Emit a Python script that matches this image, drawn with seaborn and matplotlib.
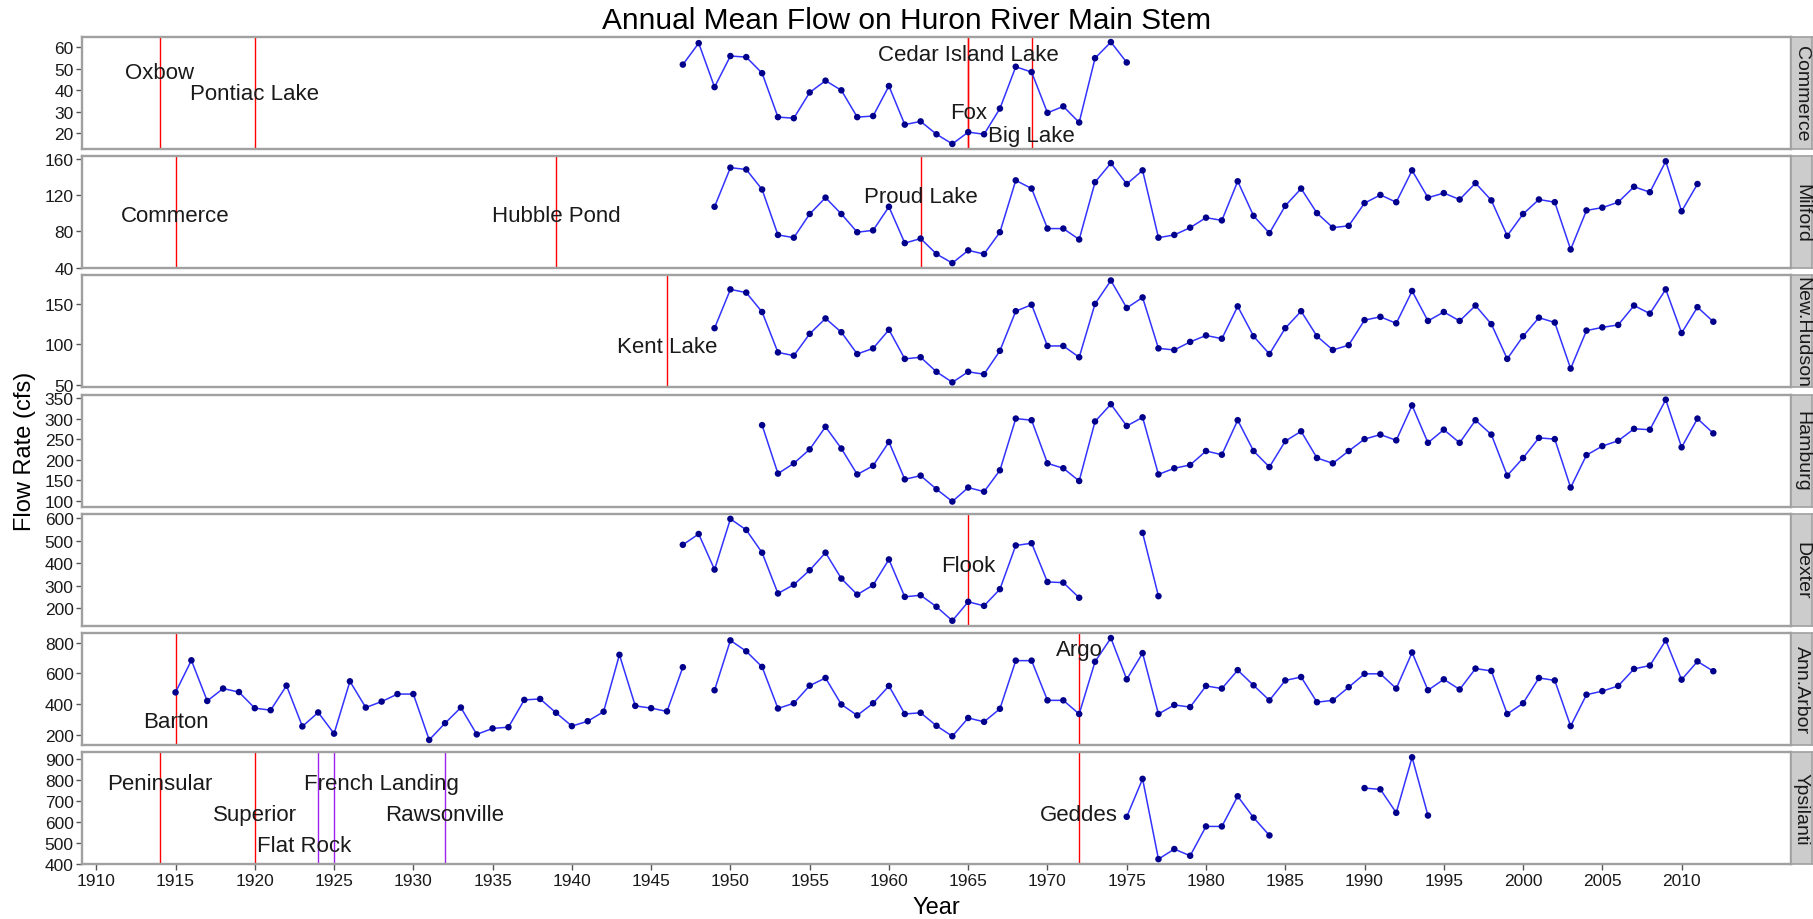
import numpy as np
import pandas as pd
import matplotlib
matplotlib.use("Agg")
import matplotlib.pyplot as plt
import seaborn as sns

# ---------------- data ----------------
stations = ["Commerce", "Milford", "New.Hudson", "Hamburg", "Dexter", "Ann.Arbor", "Ypsilanti"]

commerce_start = 1947
commerce_flow = [52, 62, 41.5, 56, 55.5, 48, 27.5, 27, 39, 44.5, 40, 27.5, 28, 42, 24, 25.5, 19.5, 15,
                 20.5, 19.5, 31.5, 51, 48.5, 29.5, 32.5, 25, 55, 62.5, 53]

milford_start = 1949
milford_flow = [107, 150, 148, 126, 76, 73, 99, 117, 99, 79, 81, 107, 67, 72, 55, 45, 59, 55, 79, 136,
                127, 83, 83, 71, 134, 155, 132, 147, 73, 76, 84, 95, 92, 135, 97, 78, 108, 127, 100, 84,
                86, 111, 120, 112, 147, 117, 122, 115, 133, 114, 75, 99, 115, 112, 60, 103, 106, 112, 129,
                123, 157, 102, 132]

newhudson_start = 1949
newhudson_flow = [120, 168, 164, 140, 90, 86, 113, 132, 115, 88, 95, 118, 82, 84, 66, 53, 66, 63, 92, 141,
                  149, 98, 98, 84, 150, 179, 145, 158, 95, 93, 103, 111, 107, 147, 110, 88, 120, 141, 110, 93,
                  99, 130, 134, 126, 166, 129, 140, 129, 148, 125, 82, 110, 133, 127, 70, 117, 121, 124, 148, 138,
                  168, 114, 146, 128]

hamburg_start = 1952
hamburg_flow = [284, 166, 191, 225, 280, 227, 164, 185, 243, 152,
                161, 128, 98, 132, 122, 174, 300, 296, 191, 179,
                148, 293, 335, 282, 303, 164, 179, 187, 221, 212,
                296, 221, 182, 245, 269, 204, 191, 221, 250, 261,
                247, 332, 241, 273, 241, 296, 261, 161, 204, 253,
                250, 132, 211, 233, 246, 275, 273, 346, 230, 300,
                264]

dexter_start = 1947
dexter_flow = [481, 529, 371, 596, 547, 446, 265, 304, 368, 446,
               331, 260, 302, 416, 250, 257, 206, 144, 228, 210,
               284, 478, 488, 316, 313, 246, None, None, None, 534, 253]

annarbor_start = 1915
annarbor_flow = [476, 685, 420, 501, 478, 373, 360, 520, 254, 345, 207, 548, 377, 416, 465, 465, 166, 275,
                 377, 202, 241, 249, 427, 433, 343, 256, 288, 350, 721, 388, 373, 352, 640,
                 None,
                 490, 815, 744, 642, 371, 405, 520, 570, 397, 326, 405, 518,
                 335, 343, 258, 190, 309, 284, 369, 683, 683, 424,
                 424, 335, 676, 830, 561, 732, 335, 394, 380, 518,
                 501, 621, 522, 424, 554, 576, 412, 424, 510, 597,
                 597, 501, 736, 490, 561, 495, 631, 616, 335, 405,
                 570, 554, 256, 461, 484, 518, 629, 651, 815, 559,
                 678, 614]

ypsilanti_start = 1975
ypsilanti_flow = [626, 807, 424, 472, 440, 580, 580, 724, 622, 537,
                  None, None, None, None, None,
                  763, 757, 645, 910, 632]

# dams
dam_station = ["Commerce", "Commerce", "Commerce", "Commerce", "Commerce",
               "Milford", "Milford", "Milford", "New.Hudson", "Dexter",
               "Ann.Arbor", "Ann.Arbor",
               "Ypsilanti", "Ypsilanti", "Ypsilanti", "Ypsilanti", "Ypsilanti", "Ypsilanti"]
dam_name = ["Oxbow", "Pontiac Lake", "Cedar Island Lake", "Fox", "Big Lake",
            "Commerce", "Hubble Pond", "Proud Lake", "Kent Lake", "Flook",
            "Barton", "Argo",
            "Peninsular", "Superior", "Flat Rock", "French Landing", "Rawsonville", "Geddes"]
dam_year = [1914, 1920, 1965, 1965, 1969,
            1915, 1939, 1962, 1946, 1965,
            1915, 1972,
            1914, 1920, 1924, 1925, 1932, 1972]
dam_label_year = [1914, 1920, 1965, 1965, 1969,
                  1915, 1939, 1962, 1946, 1965,
                  1915, 1972,
                  1914, 1920, 1923.1, 1928, 1932, 1972]
dam_label_flow = [48.5, 38.5, 56.5, 29.5, 19,
                  97, 97, 118, 97, 390,
                  287, 755,
                  785, 637, 487, 785, 637, 637]
dam_kind = ["red"] * 14 + ["purple", "purple", "purple", "red"]

y_ticks = {
    "Commerce": [20, 30, 40, 50, 60],
    "Milford": [40, 80, 120, 160],
    "New.Hudson": [50, 100, 150],
    "Hamburg": [100, 150, 200, 250, 300, 350],
    "Dexter": [200, 300, 400, 500, 600],
    "Ann.Arbor": [200, 400, 600, 800],
    "Ypsilanti": [400, 500, 600, 700, 800, 900],
}
x_ticks = list(range(1910, 2011, 5))

# ---------------- tidy frame ----------------
series = {
    "Commerce": (commerce_start, commerce_flow),
    "Milford": (milford_start, milford_flow),
    "New.Hudson": (newhudson_start, newhudson_flow),
    "Hamburg": (hamburg_start, hamburg_flow),
    "Dexter": (dexter_start, dexter_flow),
    "Ann.Arbor": (annarbor_start, annarbor_flow),
    "Ypsilanti": (ypsilanti_start, ypsilanti_flow),
}
rows = []
for st, (start, vals) in series.items():
    seg = 0
    for i, v in enumerate(vals):
        if v is None:
            seg += 1
            continue
        rows.append({"Station": st, "Year": start + i, "Flow": float(v), "Segment": seg})
df = pd.DataFrame(rows)

dams = pd.DataFrame({"Station": dam_station, "Name": dam_name, "Year": dam_year,
                     "LabelYear": dam_label_year, "LabelFlow": dam_label_flow, "Kind": dam_kind})

# ---------------- style ----------------
sns.set_theme(style="white")
plt.rcParams["font.family"] = ["Liberation Sans", "DejaVu Sans"]

W, H = 1813, 920
fig = plt.figure(figsize=(W / 100, H / 100), dpi=100)

left_px, right_px = 82, 1791
top0, pitch, ph = 38, 119.2, 112
strip_w = 21
border_col = "#A0A0A0"
text_col = "#1a1a1a"
xlim = (1909.1, 2016.9)

kind_color = {"red": "#FF0000", "purple": "#A020F0"}

for i, st in enumerate(stations):
    top = top0 + i * pitch
    ax = fig.add_axes([left_px / W, 1 - (top + ph) / H, (right_px - left_px) / W, ph / H])
    sub = df[df["Station"] == st]
    sd = dams[dams["Station"] == st]

    for _, r in sd.iterrows():
        ax.axvline(r["Year"], color=kind_color[r["Kind"]], lw=1.0, zorder=1)

    sns.lineplot(data=sub, x="Year", y="Flow", units="Segment", estimator=None,
                 color="#3333FF", lw=1.1, ax=ax, legend=False, zorder=2)
    sns.scatterplot(data=sub, x="Year", y="Flow", color="#00008B", s=22,
                    edgecolor="none", ax=ax, legend=False, zorder=3)

    for _, r in sd.iterrows():
        ax.text(r["LabelYear"], r["LabelFlow"], r["Name"], ha="center", va="center",
                fontsize=16, color=text_col, zorder=4)

    vals = list(sub["Flow"]) + list(sd["LabelFlow"])
    lo, hi = min(vals), max(vals)
    pad = (hi - lo) * 0.05
    ax.set_ylim(lo - pad, hi + pad)
    ax.set_xlim(*xlim)
    ax.set_yticks(y_ticks[st])
    ax.set_xticks(x_ticks)
    ax.set_xlabel("")
    ax.set_ylabel("")
    ax.grid(False)
    for sp in ax.spines.values():
        sp.set_color(border_col)
        sp.set_linewidth(1.7)
    ax.tick_params(axis="y", which="both", left=True, length=4, width=1, color="#555555",
                   labelsize=12.5, labelcolor=text_col, pad=2)
    if i == len(stations) - 1:
        ax.tick_params(axis="x", bottom=True, length=4, width=1, color="#555555",
                       labelsize=12.5, labelcolor=text_col, pad=2)
    else:
        ax.tick_params(axis="x", bottom=False, labelbottom=False)

    # strip
    sax = fig.add_axes([right_px / W, 1 - (top + ph) / H, strip_w / W, ph / H])
    sax.set_facecolor("#CCCCCC")
    sax.set_xticks([])
    sax.set_yticks([])
    for sp in sax.spines.values():
        sp.set_color(border_col)
        sp.set_linewidth(1.2)
    sax.text(0.5, 0.5, st, rotation=-90, ha="center", va="center", fontsize=14,
             color=text_col, transform=sax.transAxes)

fig.text(0.5, 1 - 21 / H, "Annual Mean Flow on Huron River Main Stem", ha="center", va="center",
         fontsize=21.5, color="black")
fig.text((left_px + right_px) / 2 / W, 1 - 908 / H, "Year", ha="center", va="center",
         fontsize=17, color="black")
fig.text(25 / W, 1 - ((top0 + top0 + 6 * pitch + ph) / 2) / H, "Flow Rate (cfs)", rotation=90,
         ha="center", va="center", fontsize=17, color="black")

fig.savefig("out.png", dpi=100, facecolor="white")
